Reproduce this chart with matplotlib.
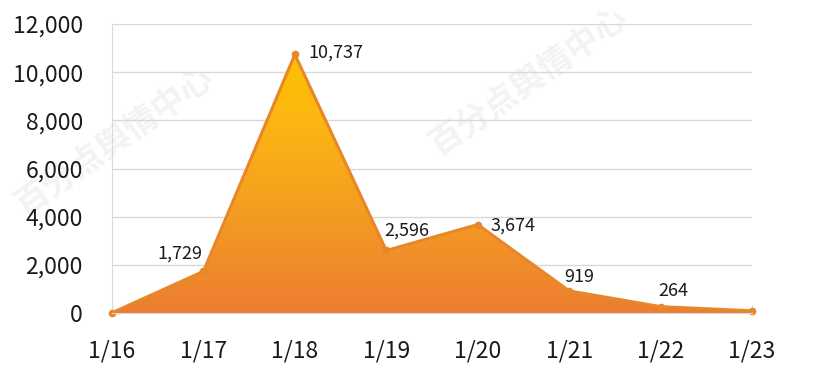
import matplotlib
matplotlib.use("Agg")
import matplotlib.pyplot as plt
import numpy as np
from matplotlib.colors import LinearSegmentedColormap
from matplotlib.patches import Polygon

plt.rcParams['font.family'] = ['Noto Sans CJK SC', 'DejaVu Sans']

dates = ['1/16', '1/17', '1/18', '1/19', '1/20', '1/21', '1/22', '1/23']
values = [10, 1729, 10737, 2596, 3674, 919, 264, 90]
show_label = [False, True, True, True, True, True, True, False]
yticks = [0, 2000, 4000, 6000, 8000, 10000, 12000]

# label offsets (points) and alignment per point
offsets = [(0, 0), (-1, 13), (9.5, 1.5), (-1.5, 14), (9, -1), (-3.5, 10), (-1.5, 11), (0, 0)]
aligns = ['center', 'right', 'left', 'left', 'left', 'left', 'left', 'center']

fig = plt.figure(figsize=(8.13, 3.72), dpi=100)
ax = fig.add_axes([112/813, 1-313/372, 640/813, 289/372])

x = np.arange(len(dates))
ax.set_xlim(0, len(dates)-1)
ax.set_ylim(0, 12000)

# watermark
for (wx, wy) in [(0.14, 0.62), (0.65, 0.78)]:
    fig.text(wx, wy, '百分点舆情中心', rotation=35, fontsize=24, color='#f3f3f3',
             ha='center', va='center', fontweight='bold', zorder=-5)
ax.patch.set_alpha(0)

# gradient fill
cmap = LinearSegmentedColormap.from_list(
    'g', [(0, '#ED7D31'), (0.35, '#F39A22'), (0.75, '#FCB712'), (1, '#FFC000')])
ymax = max(values)
grad = np.linspace(0, 1, 256).reshape(-1, 1)
im = ax.imshow(grad, cmap=cmap, origin='lower', aspect='auto',
               extent=[0, len(dates)-1, 0, ymax], zorder=2)
verts = [(0, 0)] + list(zip(x, values)) + [(len(dates)-1, 0)]
poly = Polygon(verts, closed=True, facecolor='none', edgecolor='none')
ax.add_patch(poly)
im.set_clip_path(poly)

ax.plot(x, values, color='#E8862A', lw=2.2, zorder=3, solid_joinstyle='round')
ax.plot(x, values, 'o', color='#E8862A', ms=4.5, zorder=4, clip_on=False)

for i, v in enumerate(values):
    if show_label[i]:
        ax.annotate(f'{v:,}', (x[i], v), xytext=offsets[i], textcoords='offset points',
                    ha=aligns[i], va='center',
                    fontsize=13, color='#1a1a1a', zorder=5)

ax.set_yticks(yticks)
ax.set_yticklabels([f'{t:,}' for t in yticks])
ax.set_xticks(x)
ax.set_xticklabels(dates)
ax.grid(axis='y', color='#D9D9D9', lw=1, zorder=1)
ax.set_axisbelow(True)
for s in ['top', 'right']:
    ax.spines[s].set_visible(False)
ax.spines['left'].set_color('#D9D9D9')
ax.spines['bottom'].set_color('#D9D9D9')
ax.spines['bottom'].set_zorder(6)
ax.tick_params(axis='y', length=0, pad=21, labelsize=16.5, labelcolor='#1a1a1a')
ax.tick_params(axis='x', direction='in', length=6, color='#D9D9D9', pad=19,
               labelsize=16.5, labelcolor='#1a1a1a')
for t in ax.xaxis.get_major_ticks():
    t.tick1line.set_zorder(6)

fig.savefig('out.png', dpi=100)
